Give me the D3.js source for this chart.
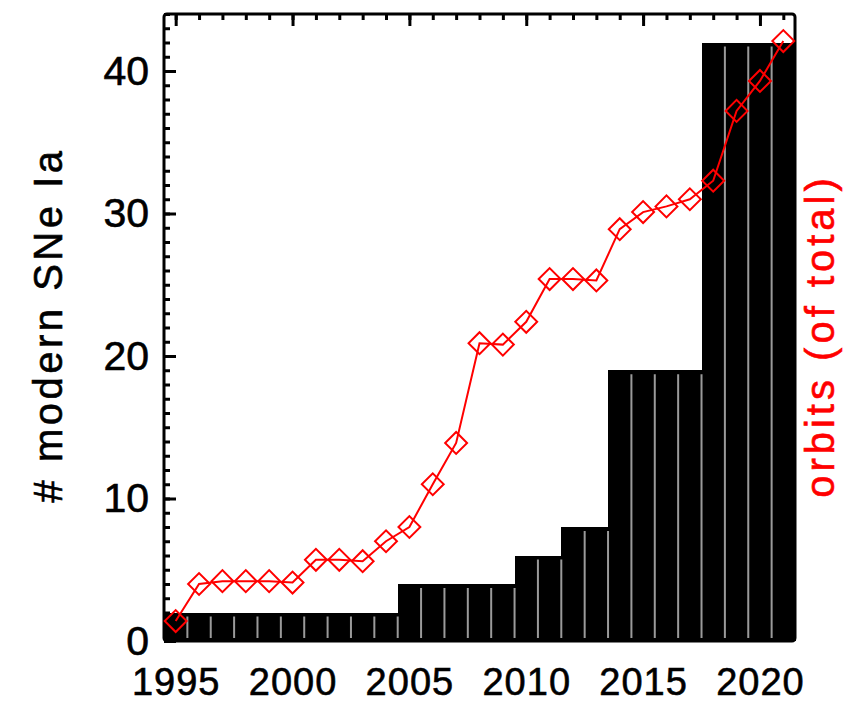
<!DOCTYPE html>
<html>
<head>
<meta charset="utf-8">
<script src="https://cdn.jsdelivr.net/npm/d3@7"></script>
<style>
  html, body { margin: 0; padding: 0; background: #fff; }
  svg { display: block; }
  text { font-family: "Liberation Sans", Arial, Helvetica, sans-serif; }
</style>
</head>
<body>
<svg id="chart" width="861" height="705"></svg>
<script>
// ---- data ----
const years = [1995,1996,1997,1998,1999,2000,2001,2002,2003,2004,2005,2006,2007,2008,2009,2010,2011,2012,2013,2014,2015,2016,2017,2018,2019,2020,2021];
const snCounts = [2,2,2,2,2,2,2,2,2,2,4,4,4,4,4,6,6,8,8,19,19,19,19,42,42,42,42];
const orbits = [1.4,4.0,4.2,4.2,4.2,4.1,5.7,5.7,5.6,7.0,8.0,11.0,13.9,20.9,20.8,22.4,25.4,25.4,25.3,28.9,30.1,30.5,31.0,32.3,37.2,39.3,42.1];
const xMajorTicks = [1995,2000,2005,2010,2015,2020];
const yMajorTicks = [0,10,20,30,40];
const yTitle = "# modern SNe Ia";
const rightTitle = "orbits (of total)";

// ---- layout ----
const L = 164, R = 795, T = 14, B = 641;
const svg = d3.select("#chart");
const x = d3.scaleLinear().domain([1994.5, 2021.5]).range([L, R]);
const y = d3.scaleLinear().domain([0, 44]).range([B, T]);

// bars
svg.append("g").selectAll("rect").data(years).join("rect")
  .attr("x", d => x(d - 0.5))
  .attr("width", d => x(d + 0.5) - x(d - 0.5) + 0.5)
  .attr("y", (d, i) => y(snCounts[i]))
  .attr("height", (d, i) => y(0) - y(snCounts[i]))
  .attr("fill", "#000")
  .attr("shape-rendering", "crispEdges");

// separators
const seps = years.slice(0, -1).map((d, i) => ({xv: d + 0.5, top: Math.min(snCounts[i], snCounts[i + 1])}));
svg.append("g").selectAll("line").data(seps).join("line")
  .attr("x1", d => x(d.xv)).attr("x2", d => x(d.xv))
  .attr("y1", d => y(d.top) + 4).attr("y2", y(0) - 3)
  .attr("stroke", "#9a9a9a").attr("stroke-width", 2);

// top ticks (inward)
const minorX = d3.range(1995, 2022);
const topMinor = d3.axisBottom(x).tickValues(minorX).tickSize(6).tickFormat("");
const topMajor = d3.axisBottom(x).tickValues(xMajorTicks).tickSize(12).tickFormat("");
[topMinor, topMajor].forEach(ax => {
  const g = svg.append("g").attr("transform", `translate(0,${T})`).call(ax);
  g.select(".domain").remove();
  g.selectAll(".tick line").attr("stroke", "#000").attr("stroke-width", 3);
});

// left ticks (inward)
const minorY = d3.range(0, 45);
const leftMinor = d3.axisLeft(y).tickValues(minorY).tickSize(-6).tickFormat("");
const leftMajor = d3.axisLeft(y).tickValues(yMajorTicks).tickSize(-12).tickPadding(15).tickFormat(d3.format("d"));
[leftMinor, leftMajor].forEach(ax => {
  const g = svg.append("g").attr("transform", `translate(${L},0)`).call(ax);
  g.select(".domain").remove();
  g.selectAll(".tick line").attr("stroke", "#000").attr("stroke-width", 3);
  g.selectAll(".tick text").attr("font-size", 41).attr("fill", "#000")
    .attr("stroke", "#000").attr("stroke-width", 0.6)
    .style("font-family", '"Liberation Sans", Arial, sans-serif');
});

// bottom labels
const bottom = d3.axisBottom(x).tickValues(xMajorTicks).tickSize(0).tickPadding(27).tickFormat(d3.format("d"));
const gb = svg.append("g").attr("transform", `translate(0,${B})`).call(bottom);
gb.select(".domain").remove();
gb.selectAll(".tick text").attr("font-size", 38).attr("fill", "#000")
  .attr("stroke", "#000").attr("stroke-width", 0.6)
  .attr("letter-spacing", "1px")
  .style("font-family", '"Liberation Sans", Arial, sans-serif');

// frame
svg.append("rect")
  .attr("x", L).attr("y", T).attr("width", R - L).attr("height", B - T)
  .attr("rx", 3).attr("fill", "none").attr("stroke", "#000").attr("stroke-width", 3);

// red line + diamonds
const line = d3.line().x((d, i) => x(years[i])).y(d => y(d));
svg.append("path").datum(orbits).attr("d", line)
  .attr("fill", "none").attr("stroke", "#ff0000").attr("stroke-width", 2);
const sym = d3.symbol(d3.symbolSquare, 240);
svg.append("g").selectAll("path").data(orbits).join("path")
  .attr("d", sym)
  .attr("transform", (d, i) => `translate(${x(years[i])},${y(d)}) rotate(45)`)
  .attr("fill", "none").attr("stroke", "#ff0000").attr("stroke-width", 2);

// titles
svg.append("text")
  .attr("transform", "translate(62,325) rotate(-90)")
  .attr("text-anchor", "middle").attr("font-size", 40)
  .attr("letter-spacing", "3.5px").attr("fill", "#000")
  .attr("stroke", "#000").attr("stroke-width", 0.6)
  .text(yTitle);
svg.append("text")
  .attr("transform", "translate(834,336) rotate(-90)")
  .attr("text-anchor", "middle").attr("font-size", 40)
  .attr("letter-spacing", "4px").attr("fill", "#ff0000")
  .attr("stroke", "#ff0000").attr("stroke-width", 0.6)
  .text(rightTitle);
</script>
</body>
</html>
